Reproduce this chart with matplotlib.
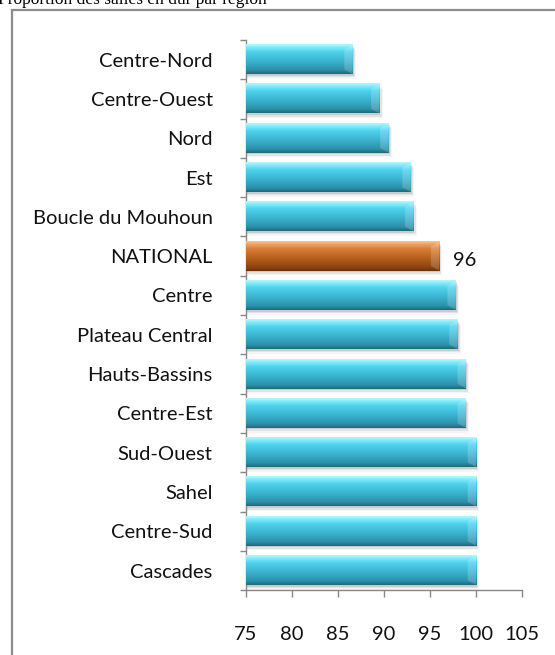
import numpy as np
import matplotlib
matplotlib.use("Agg")
import matplotlib.pyplot as plt
from matplotlib.colors import LinearSegmentedColormap
from matplotlib.patches import Rectangle

# data (bottom to top)
regions = ["Cascades", "Centre-Sud", "Sahel", "Sud-Ouest", "Centre-Est",
           "Hauts-Bassins", "Plateau Central", "Centre", "NATIONAL",
           "Boucle du Mouhoun", "Est", "Nord", "Centre-Ouest", "Centre-Nord"]
values = [100, 100, 100, 100, 98.9, 98.9, 98.0, 97.8, 96.0,
          93.2, 92.9, 90.5, 89.5, 86.6]
xticks = [75, 80, 85, 90, 95, 100, 105]
national_label = "96"

plt.rcParams['font.family'] = ['Lato', 'DejaVu Sans']

fig = plt.figure(figsize=(5.55, 6.55), dpi=100)
ax = fig.add_axes([0.443, 0.099, 0.4975, 0.840])

y = np.arange(len(regions))
bars = ax.barh(y, [v - 75 for v in values], left=75, height=0.74,
               color="none", edgecolor="none", zorder=3)

cyan = LinearSegmentedColormap.from_list(
    "cy", [(0, "#1f6878"), (0.12, "#2b8fa8"), (0.45, "#3bb6d2"),
           (0.75, "#4fd2ec"), (0.9, "#7fecfb"), (1, "#b8f6fd")])
orange = LinearSegmentedColormap.from_list(
    "or", [(0, "#6e3208"), (0.12, "#8c4412"), (0.45, "#b8621e"),
           (0.75, "#d8803a"), (0.9, "#f0a060"), (1, "#f8c490")])
grad = np.linspace(0, 1, 64).reshape(-1, 1)

for name, b in zip(regions, bars):
    x0, y0, w, h = b.get_x(), b.get_y(), b.get_width(), b.get_height()
    cmap = orange if name == "NATIONAL" else cyan
    # soft shadow
    for k, a in enumerate([0.10, 0.07, 0.04]):
        d = 0.04 * (k + 1)
        ax.add_patch(Rectangle((x0, y0 - d), w + 0.12 * (k + 1), h,
                               facecolor="black", alpha=a, lw=0, zorder=2))
    im = ax.imshow(grad, cmap=cmap, origin="lower", aspect="auto",
                   extent=[x0, x0 + w, y0, y0 + h], zorder=3)
    # bevel at the end of the bar
    ax.fill([x0 + w - 0.9, x0 + w, x0 + w, x0 + w - 0.9],
            [y0 + 0.12, y0, y0 + h, y0 + h - 0.12],
            color="white", alpha=0.18, lw=0, zorder=4)

ax.set_xlim(75, 105)
ax.set_ylim(-0.5, len(regions) - 0.5)

ax.set_xticks(xticks)
ax.set_xticklabels([str(t) for t in xticks])
ax.set_yticks(y)
ax.set_yticklabels(regions)
ax.set_yticks(np.arange(-0.5, len(regions), 1), minor=True)
ax.tick_params(axis="y", which="major", length=0, pad=24, labelsize=14.5,
               colors="#111111")
ax.tick_params(axis="y", which="minor", length=4, width=1, color="#888888")
ax.tick_params(axis="x", which="major", length=5, width=1, color="#888888",
               pad=21, labelsize=14.5, labelcolor="#111111")

for s in ["top", "right"]:
    ax.spines[s].set_visible(False)
for s in ["left", "bottom"]:
    ax.spines[s].set_color("#888888")
    ax.spines[s].set_linewidth(1)

nat = regions.index("NATIONAL")
ax.text(values[nat] + 1.5, nat - 0.1, national_label, va="center",
        ha="left", fontsize=14.5, color="#111111", zorder=5)

# chart frame
fig.patches.append(Rectangle((12 / 555, -0.05), 1.05, (655 - 10) / 655 + 0.05,
                             transform=fig.transFigure, fill=False,
                             edgecolor="#8c8c8c", lw=1.6))

fig.text(-0.004, 1 - 4 / 655, "Proportion des salles en dur par région",
         family="Liberation Serif", fontsize=12.5, va="baseline", ha="left")

fig.savefig("out.png", dpi=100)
